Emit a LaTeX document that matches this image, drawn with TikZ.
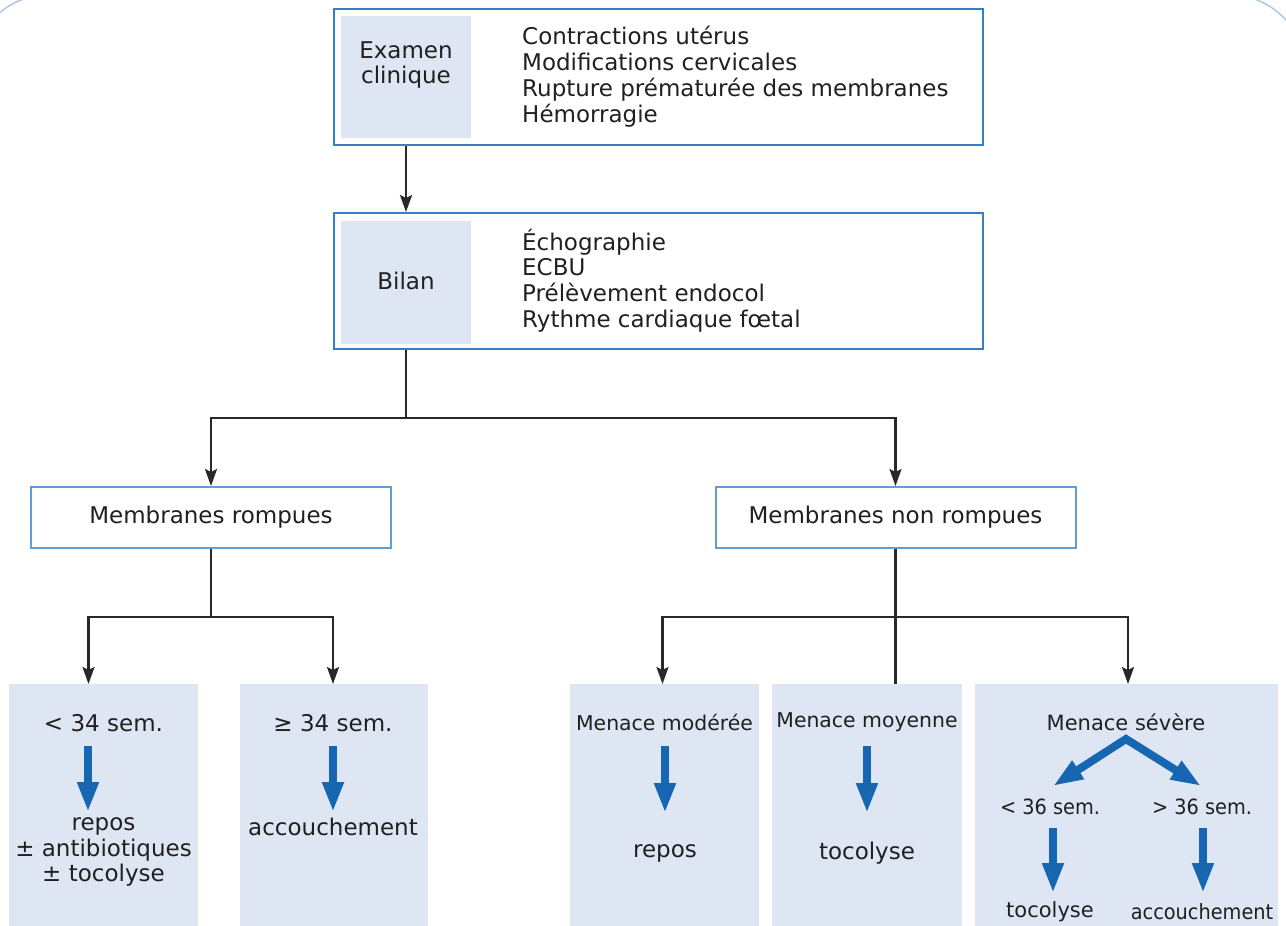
\documentclass[tikz,border=0pt]{standalone}
\usepackage{fontspec}
\setmainfont{DejaVu Sans}
\usetikzlibrary{arrows.meta}
\definecolor{boxblue}{RGB}{52,128,196}
\definecolor{midblue}{RGB}{96,158,214}
\definecolor{panel}{RGB}{223,230,243}
\definecolor{arrblue}{RGB}{22,102,178}
\definecolor{txt}{RGB}{32,32,32}
\definecolor{conn}{RGB}{40,40,40}
\definecolor{frame}{RGB}{170,195,232}
\newcommand\fmain{\fontsize{23}{25.8}\selectfont}
\newcommand\fmen{\fontsize{20.4}{24}\selectfont}
\newcommand\fsev{\fontsize{21}{24}\selectfont}
\newcommand\fsevc{\fontsize{21}{24}\selectfont\addfontfeatures{FakeStretch=0.92}}
\tikzset{
  outerbox/.style={draw=boxblue, line width=2pt, fill=white, minimum width=649pt, minimum height=136pt, inner sep=0pt},
  graybox/.style={fill=panel, minimum width=130pt, inner sep=0pt},
  midbox/.style={draw=midblue, line width=2pt, fill=white, minimum width=360pt, minimum height=61pt, inner sep=0pt, font=\fmain, text=txt},
  panelbox/.style={fill=panel, anchor=north, minimum height=260pt, inner sep=0pt},
  lbl/.style={inner sep=0pt, text=txt, align=center},
  conn/.style={draw=conn, line width=2.3pt},
  connarr/.style={conn, -{Stealth[width=12pt,length=17pt,inset=3pt]}},
  bluearr/.style={draw=arrblue, line width=8pt, -{Triangle[width=20pt,length=30pt]}},
}
\begin{document}
\begin{tikzpicture}[x=1pt,y=-1pt]
\useasboundingbox (0,0) rectangle (1286,926);
\clip (0,0) rectangle (1286,926);
\fill[white] (0,0) rectangle (1286,926);
\draw[frame, line width=1.4pt, rounded corners=75pt] (-27,-5) rectangle (1305,1100);

% top boxes
\node[outerbox] (exam) at (658.5,77) {};
\node[graybox, minimum height=122pt] (examL) at (406,77) {};
\node[lbl, font=\fmain] (examT) at (406,65) {Examen\\clinique};
\node[lbl, anchor=west, align=left, font=\fmain] (examList) at (522,76.5) {Contractions utérus\\Modifications cervicales\\Rupture prématurée des membranes\\Hémorragie};

\node[outerbox] (bilan) at (658.5,281) {};
\node[graybox, minimum height=123pt] (bilanL) at (406,282) {};
\node[lbl, font=\fmain] (bilanT) at (406,281) {Bilan};
\node[lbl, anchor=west, align=left, font=\fmain] (bilanList) at (522,280.5) {Échographie\\ECBU\\Prélèvement endocol\\Rythme cardiaque fœtal};

% middle boxes
\node[midbox] (mr) at (211,517.5) {Membranes rompues};
\node[midbox] (mnr) at (895.5,517.5) {Membranes non rompues};

% bottom panels
\node[panelbox, minimum width=189pt] (ba) at (103.5,684) {};
\node[panelbox, minimum width=188pt] (bb) at (334,684) {};
\node[panelbox, minimum width=189pt] (bc) at (664.5,684) {};
\node[panelbox, minimum width=190pt] (bd) at (867,684) {};
\node[panelbox, minimum width=303pt] (be) at (1126.5,684) {};

% connectors
\draw[connarr] (examL |- exam.south) -- (examL |- bilan.north);
\draw[connarr] (examL |- bilan.south) -- ++(0,68) -| (mr.north);
\draw[connarr] (examL |- bilan.south) -- ++(0,68) -| (mnr.north);
\draw[connarr] (mr.south) -- ++(0,68) -| ([xshift=-15pt]ba.north);
\draw[connarr] (mr.south) -- ++(0,68) -| ([xshift=-1pt]bb.north);
\draw[connarr] (mnr.south) -- ++(0,68) -| ([xshift=-2pt]bc.north);
\draw[connarr] (mnr.south) -- ++(0,68) -| ([xshift=1.5pt]be.north);
\draw[conn] (mnr.south) -- (mnr.south |- bd.north);

% panel a
\node[lbl, font=\fmain] (a1) at (103.5,723) {< 34 sem.};
\node[lbl, font=\fmain] (a2) at (103.5,852) {repos\\± antibiotiques\\± tocolyse};
\draw[bluearr] (88,746) -- (88,812);
% panel b
\node[lbl, font=\fmain] (b1) at (333,723) {≥ 34 sem.};
\node[lbl, font=\fmain] (b2) at (333,827) {accouchement};
\draw[bluearr] (333,746) -- (333,812);
% panel c
\node[lbl, font=\fmen] (c1) at (664.5,722) {Menace modérée};
\node[lbl, font=\fmain] (c2) at (665,853) {repos};
\draw[bluearr] (665,746) -- (665,813);
% panel d
\node[lbl, font=\fmen] (d1) at (867,722) {Menace moyenne};
\node[lbl, font=\fmain] (d2) at (867,853) {tocolyse};
\draw[bluearr] (867,746) -- (867,813);
% panel e
\node[lbl, font=\fsev] (e1) at (1126,722) {Menace sévère};
\node[lbl, font=\fsevc] (e2) at (1050,807) {< 36 sem.};
\node[lbl, font=\fsevc] (e3) at (1202,807) {> 36 sem.};
\node[lbl, font=\fsev] (e4) at (1050,912) {tocolyse};
\node[lbl, font=\fsevc] (e5) at (1202,912) {accouchement};
\draw[bluearr, {Triangle[width=20pt,length=30pt]}-{Triangle[width=20pt,length=30pt]}, line join=miter] (1053,786) -- (1126,739) -- (1201,786);
\draw[bluearr] (1053,828) -- (1053,893);
\draw[bluearr] (1203,828) -- (1203,893);
\end{tikzpicture}
\end{document}
